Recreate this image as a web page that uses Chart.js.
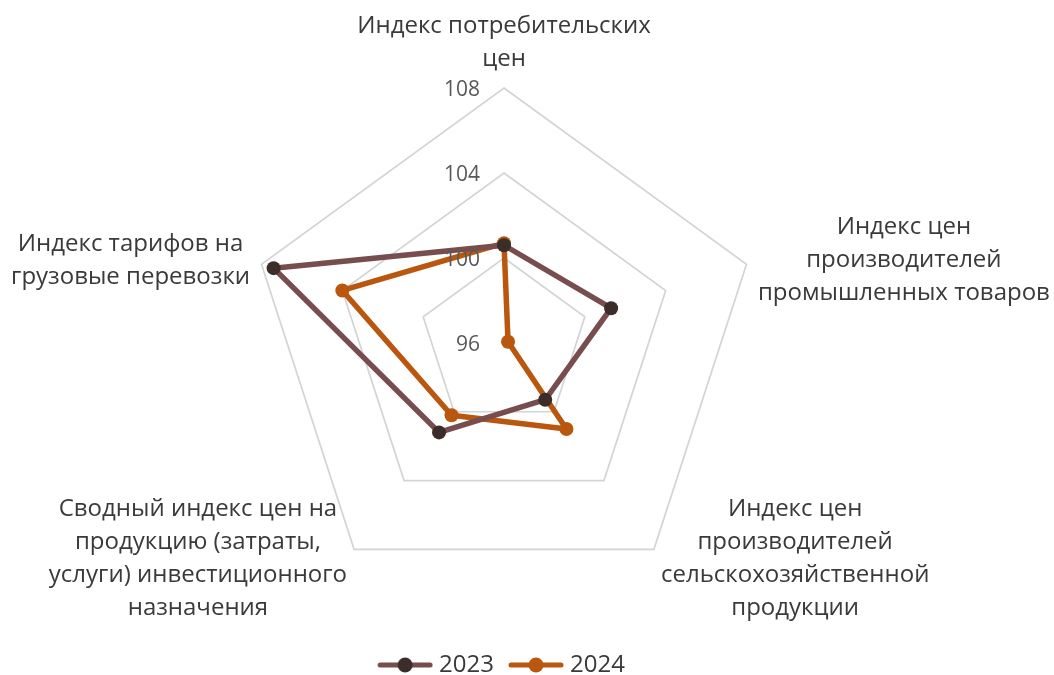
<!DOCTYPE html>
<html lang="ru">
<head>
<meta charset="utf-8">
<title>Индексы цен 2023-2024</title>
<script src="https://cdn.jsdelivr.net/npm/chart.js@4/dist/chart.umd.min.js"></script>
<style>
html,body{margin:0;padding:0;background:#fff;}
#wrap{width:1054px;height:675px;position:relative;}
</style>
</head>
<body>
<div id="wrap"><canvas id="radarChart" width="1054" height="675"></canvas></div>
<script>
// категории (оси), подписи разбиты по строкам как на картинке
const categories = [
["Индекс потребительских","цен"],
["Индекс цен","производителей","промышленных товаров"],
["Индекс цен","производителей","сельскохозяйственной","продукции"],
["Сводный индекс цен на","продукцию (затраты,","услуги) инвестиционного","назначения"],
["Индекс тарифов на","грузовые перевозки"]
];
const seriesNames = ["2023","2024"];
const values2023 = [100.6, 101.3, 99.3, 101.2, 107.4];
const values2024 = [100.7, 96.2, 101.0, 100.2, 104.0];
const tickValues = [96, 100, 104, 108];

const lineColors = ["#774d4d","#b9570f"];
const dotColors = ["#3b2d29","#b9570f"];

const FONT = "'Open Sans', 'Noto Sans', sans-serif";
Chart.defaults.font.family = FONT;

function makeLegendIcon(lineColor, dotColor){
let c = document.createElement("canvas");
c.width = 56; c.height = 18;
let g = c.getContext("2d");
g.strokeStyle = lineColor;
g.lineWidth = 5;
g.lineCap = "round";
g.beginPath(); g.moveTo(3,9); g.lineTo(53,9); g.stroke();
g.fillStyle = dotColor;
g.beginPath(); g.arc(28,9,7.5,0,Math.PI*2); g.fill();
return c;
}
const legendIcons = [makeLegendIcon(lineColors[0],dotColors[0]), makeLegendIcon(lineColors[1],dotColors[1])];

// подписи осей и шкалы рисуем сами, чтобы расположить их как в Excel
const outerText = {
id:"outerText",
afterDraw(chart){
const scale = chart.scales.r;
const ctx = chart.ctx;
ctx.save();

ctx.font = "21px " + FONT;
ctx.fillStyle = "#595959";
ctx.textAlign = "right";
ctx.textBaseline = "middle";
scale.ticks.forEach(t=>{
let p = scale.getPointPositionForValue(0, t.value);
ctx.fillText(t.label, p.x - 24, p.y + 2);
});

ctx.font = "24px " + FONT;
ctx.fillStyle = "#3a3a3a";
ctx.textAlign = "center";
const lh = 33;
chart.data.labels.forEach((lines,i)=>{
let p = scale.getPointPosition(i, scale.drawingArea + 12);
let dx = p.x - scale.xCenter;
let w = Math.max(...lines.map(s=>ctx.measureText(s).width));
let n = lines.length;
lines.forEach((s,j)=>{
let x, y;
if(Math.abs(dx) < 2){
x = p.x;
y = p.y - (n - 1 - j)*lh - lh/2;
}else{
x = dx > 0 ? p.x + w/2 : p.x - w/2;
y = p.y + (j - (n-1)/2)*lh;
}
ctx.fillText(s, x, y);
});
});
ctx.restore();
}
};

const ctx = document.getElementById("radarChart").getContext("2d");
const radar = new Chart(ctx,{
type:"radar",
data:{
labels:categories,
datasets:[
{
label:seriesNames[0],
data:values2023,
borderColor:lineColors[0],
backgroundColor:lineColors[0],
borderWidth:5.5,
fill:false,
pointRadius:7,
pointBackgroundColor:dotColors[0],
pointBorderColor:dotColors[0],
pointBorderWidth:0
},
{
label:seriesNames[1],
data:values2024,
borderColor:lineColors[1],
backgroundColor:lineColors[1],
borderWidth:5.5,
fill:false,
pointRadius:7,
pointBackgroundColor:dotColors[1],
pointBorderColor:dotColors[1],
pointBorderWidth:0
}
]
},
options:{
responsive:false,
animation:false,
layout:{ padding:{ left:249, right:295, top:53, bottom:-12 } },
elements:{ line:{ tension:0, borderJoinStyle:"round" } },
scales:{
r:{
min:tickValues[0],
max:tickValues[tickValues.length-1],
afterBuildTicks(scale){ scale.ticks = tickValues.map(v=>({value:v})); },
ticks:{ display:false, stepSize:4 },
pointLabels:{ display:false },
angleLines:{ display:false },
grid:{ color:"#d4d4d4", lineWidth:1.7 }
}
},
plugins:{
tooltip:{ enabled:false },
legend:{
position:"bottom",
labels:{
usePointStyle:true,
pointStyleWidth:44,
padding:20,
color:"#3a3a3a",
font:{ size:24, family:FONT },
generateLabels(chart){
let items = Chart.defaults.plugins.legend.labels.generateLabels(chart);
items.forEach((it,i)=>{ it.pointStyle = legendIcons[i]; });
return items;
}
}
}
}
},
plugins:[outerText]
});
</script>
</body>
</html>
